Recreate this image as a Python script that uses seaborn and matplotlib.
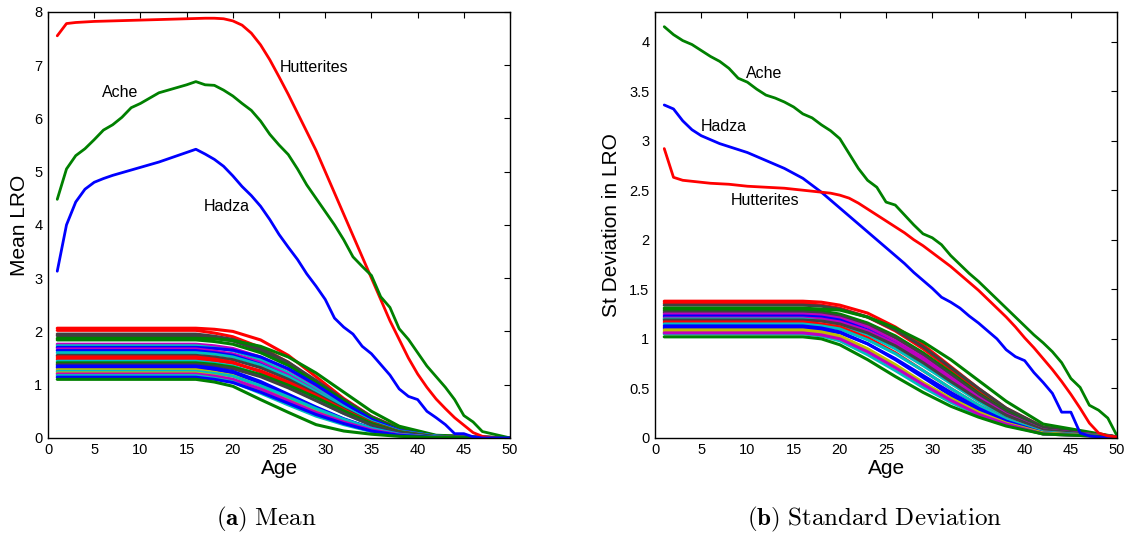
import numpy as np
import pandas as pd
import matplotlib
matplotlib.use("Agg")
import matplotlib.pyplot as plt
import seaborn as sns

# ---------------- data ----------------
ages = list(range(1, 51))

mean_hutterites = [7.55, 7.78, 7.80, 7.81, 7.82, 7.825, 7.83, 7.835, 7.84, 7.845, 7.85, 7.855, 7.86, 7.865, 7.87, 7.875,
                   7.88, 7.88, 7.87, 7.83, 7.75, 7.60, 7.38, 7.10, 6.78, 6.45, 6.10, 5.75, 5.40, 5.00,
                   4.60, 4.20, 3.80, 3.40, 3.00, 2.60, 2.20, 1.85, 1.50, 1.20, 0.95, 0.73, 0.55, 0.38, 0.24,
                   0.10, 0.03, 0.0, 0.0, 0.0]
mean_ache = [4.48, 5.05, 5.30, 5.43, 5.60, 5.78, 5.88, 6.02, 6.20, 6.28, 6.38, 6.48, 6.53, 6.58, 6.63, 6.69,
             6.63, 6.62, 6.53, 6.42, 6.28, 6.15, 5.95, 5.70, 5.50, 5.32, 5.05, 4.75, 4.50, 4.25,
             4.00, 3.72, 3.40, 3.22, 3.05, 2.65, 2.45, 2.05, 1.85, 1.60, 1.35, 1.15, 0.95, 0.72, 0.42,
             0.30, 0.12, 0.08, 0.04, 0.0]
mean_hadza = [3.13, 4.00, 4.43, 4.67, 4.80, 4.87, 4.93, 4.98, 5.03, 5.08, 5.13, 5.18, 5.24, 5.30, 5.36, 5.42,
              5.33, 5.23, 5.10, 4.92, 4.72, 4.55, 4.35, 4.10, 3.82, 3.58, 3.35, 3.08, 2.85, 2.60,
              2.25, 2.08, 1.95, 1.72, 1.58, 1.38, 1.18, 0.92, 0.78, 0.72, 0.50, 0.38, 0.25, 0.08, 0.08,
              0.02, 0.0, 0.0, 0.0, 0.0]

sd_ache = [4.15, 4.07, 4.01, 3.97, 3.91, 3.85, 3.80, 3.73, 3.63, 3.59, 3.52, 3.46, 3.43, 3.39, 3.34, 3.27,
           3.23, 3.16, 3.10, 3.02, 2.87, 2.72, 2.60, 2.53, 2.38, 2.35, 2.25, 2.15, 2.06, 2.02,
           1.95, 1.84, 1.75, 1.66, 1.58, 1.49, 1.40, 1.31, 1.22, 1.13, 1.04, 0.96, 0.87, 0.76, 0.60,
           0.51, 0.33, 0.28, 0.20, 0.02]
sd_hadza = [3.36, 3.32, 3.20, 3.11, 3.05, 3.01, 2.97, 2.94, 2.91, 2.88, 2.84, 2.80, 2.76, 2.72, 2.67, 2.62,
            2.55, 2.48, 2.40, 2.32, 2.24, 2.16, 2.08, 2.00, 1.92, 1.84, 1.76, 1.67, 1.59, 1.51,
            1.42, 1.37, 1.31, 1.23, 1.16, 1.08, 1.00, 0.89, 0.82, 0.78, 0.66, 0.56, 0.45, 0.26, 0.26,
            0.05, 0.02, 0.01, 0.01, 0.01]
sd_hutterites = [2.92, 2.63, 2.60, 2.59, 2.58, 2.57, 2.565, 2.56, 2.55, 2.54, 2.535, 2.53, 2.525, 2.52, 2.51, 2.50,
                 2.49, 2.48, 2.47, 2.45, 2.42, 2.37, 2.31, 2.25, 2.19, 2.13, 2.07, 2.00, 1.94, 1.87,
                 1.80, 1.73, 1.65, 1.57, 1.49, 1.40, 1.31, 1.22, 1.12, 1.01, 0.91, 0.80, 0.69, 0.57, 0.44,
                 0.30, 0.15, 0.05, 0.02, 0.01]

# other populations (bundle), values read at these ages
bundle_ages = [1, 16, 18, 20, 23, 26, 29, 32, 35, 38, 42, 50]

mean_bundle_colors = ['r', 'r', 'k', 'k', 'g', 'g', 'm', 'c', 'b', 'm', 'b', 'c', 'k', 'r', 'r', 'c',
                      'g', 'k', 'b', 'b', 'y', 'c', 'y', 'm', 'c', 'b', 'g']
mean_bundle = [
    [2.06, 2.06, 2.04, 2.00, 1.84, 1.55, 1.15, 0.74, 0.40, 0.18, 0.04, 0.0],
    [2.02, 2.02, 1.97, 1.90, 1.70, 1.42, 1.05, 0.68, 0.36, 0.15, 0.03, 0.0],
    [1.95, 1.95, 1.91, 1.85, 1.68, 1.42, 1.08, 0.72, 0.40, 0.17, 0.04, 0.0],
    [1.92, 1.92, 1.88, 1.82, 1.64, 1.38, 1.05, 0.70, 0.38, 0.16, 0.03, 0.0],
    [1.87, 1.87, 1.86, 1.83, 1.72, 1.52, 1.22, 0.86, 0.50, 0.22, 0.05, 0.0],
    [1.84, 1.84, 1.81, 1.76, 1.60, 1.36, 1.04, 0.70, 0.38, 0.16, 0.03, 0.0],
    [1.76, 1.76, 1.73, 1.68, 1.52, 1.28, 0.97, 0.64, 0.34, 0.14, 0.03, 0.0],
    [1.73, 1.73, 1.69, 1.64, 1.47, 1.22, 0.92, 0.60, 0.32, 0.13, 0.03, 0.0],
    [1.70, 1.70, 1.68, 1.65, 1.52, 1.30, 1.00, 0.66, 0.35, 0.14, 0.03, 0.0],
    [1.67, 1.67, 1.63, 1.58, 1.42, 1.18, 0.88, 0.57, 0.30, 0.12, 0.02, 0.0],
    [1.64, 1.64, 1.60, 1.55, 1.38, 1.14, 0.84, 0.54, 0.28, 0.11, 0.02, 0.0],
    [1.60, 1.60, 1.57, 1.52, 1.37, 1.15, 0.87, 0.58, 0.31, 0.13, 0.03, 0.0],
    [1.55, 1.55, 1.52, 1.47, 1.32, 1.10, 0.83, 0.55, 0.29, 0.12, 0.02, 0.0],
    [1.52, 1.52, 1.48, 1.42, 1.24, 1.00, 0.74, 0.48, 0.25, 0.10, 0.02, 0.0],
    [1.48, 1.48, 1.45, 1.40, 1.26, 1.05, 0.80, 0.53, 0.28, 0.11, 0.02, 0.0],
    [1.44, 1.44, 1.40, 1.35, 1.18, 0.96, 0.71, 0.46, 0.24, 0.10, 0.02, 0.0],
    [1.41, 1.41, 1.38, 1.33, 1.19, 0.99, 0.76, 0.51, 0.27, 0.11, 0.02, 0.0],
    [1.38, 1.38, 1.35, 1.30, 1.15, 0.94, 0.70, 0.46, 0.24, 0.10, 0.02, 0.0],
    [1.35, 1.35, 1.31, 1.25, 1.06, 0.82, 0.58, 0.36, 0.18, 0.07, 0.01, 0.0],
    [1.32, 1.32, 1.28, 1.22, 1.03, 0.80, 0.56, 0.35, 0.18, 0.07, 0.01, 0.0],
    [1.28, 1.28, 1.23, 1.17, 0.97, 0.74, 0.51, 0.31, 0.15, 0.06, 0.01, 0.0],
    [1.25, 1.25, 1.21, 1.16, 0.98, 0.77, 0.55, 0.35, 0.18, 0.07, 0.01, 0.0],
    [1.22, 1.22, 1.17, 1.10, 0.90, 0.67, 0.45, 0.27, 0.13, 0.05, 0.01, 0.0],
    [1.20, 1.20, 1.16, 1.10, 0.92, 0.70, 0.48, 0.30, 0.15, 0.06, 0.01, 0.0],
    [1.17, 1.17, 1.12, 1.05, 0.84, 0.62, 0.41, 0.25, 0.12, 0.05, 0.01, 0.0],
    [1.14, 1.14, 1.10, 1.04, 0.86, 0.65, 0.44, 0.27, 0.13, 0.05, 0.01, 0.0],
    [1.10, 1.10, 1.05, 0.97, 0.72, 0.48, 0.25, 0.13, 0.07, 0.03, 0.01, 0.0],
]

sd_bundle_colors = ['r', 'r', 'k', 'g', 'g', 'k', 'm', 'b', 'm', 'c', 'k', 'r', 'c', 'b', 'b', 'y', 'y',
                    'c', 'm', 'g']
sd_bundle = [
    [1.38, 1.38, 1.37, 1.34, 1.26, 1.12, 0.94, 0.72, 0.50, 0.30, 0.11, 0.01],
    [1.36, 1.36, 1.34, 1.31, 1.22, 1.08, 0.90, 0.69, 0.47, 0.28, 0.10, 0.01],
    [1.34, 1.34, 1.33, 1.30, 1.22, 1.09, 0.92, 0.71, 0.50, 0.30, 0.11, 0.01],
    [1.31, 1.31, 1.30, 1.29, 1.22, 1.11, 0.97, 0.79, 0.58, 0.37, 0.14, 0.01],
    [1.29, 1.29, 1.28, 1.25, 1.16, 1.03, 0.86, 0.66, 0.45, 0.27, 0.09, 0.01],
    [1.27, 1.27, 1.26, 1.23, 1.14, 1.01, 0.84, 0.64, 0.44, 0.26, 0.09, 0.01],
    [1.25, 1.25, 1.24, 1.21, 1.12, 0.98, 0.81, 0.61, 0.41, 0.24, 0.08, 0.01],
    [1.23, 1.23, 1.22, 1.19, 1.09, 0.95, 0.77, 0.57, 0.38, 0.22, 0.07, 0.01],
    [1.21, 1.21, 1.20, 1.17, 1.08, 0.95, 0.78, 0.59, 0.40, 0.23, 0.08, 0.01],
    [1.20, 1.20, 1.18, 1.14, 1.04, 0.90, 0.73, 0.55, 0.37, 0.21, 0.07, 0.01],
    [1.19, 1.19, 1.18, 1.15, 1.06, 0.93, 0.76, 0.57, 0.39, 0.23, 0.08, 0.01],
    [1.17, 1.17, 1.15, 1.12, 1.01, 0.86, 0.68, 0.50, 0.33, 0.19, 0.06, 0.01],
    [1.15, 1.15, 1.13, 1.10, 0.99, 0.85, 0.68, 0.50, 0.33, 0.19, 0.06, 0.01],
    [1.13, 1.13, 1.11, 1.07, 0.95, 0.79, 0.61, 0.43, 0.28, 0.16, 0.05, 0.01],
    [1.11, 1.11, 1.09, 1.06, 0.95, 0.80, 0.63, 0.46, 0.30, 0.17, 0.05, 0.01],
    [1.09, 1.09, 1.07, 1.03, 0.90, 0.74, 0.56, 0.40, 0.26, 0.15, 0.05, 0.01],
    [1.07, 1.07, 1.05, 1.01, 0.88, 0.72, 0.55, 0.39, 0.25, 0.14, 0.04, 0.01],
    [1.05, 1.05, 1.03, 0.98, 0.84, 0.68, 0.51, 0.36, 0.23, 0.13, 0.04, 0.01],
    [1.06, 1.06, 1.04, 1.00, 0.87, 0.71, 0.54, 0.38, 0.24, 0.14, 0.04, 0.01],
    [1.02, 1.02, 1.00, 0.94, 0.79, 0.62, 0.46, 0.32, 0.21, 0.12, 0.04, 0.01],
]

x_ticks = [0, 5, 10, 15, 20, 25, 30, 35, 40, 45, 50]
mean_yticks = [0, 1, 2, 3, 4, 5, 6, 7, 8]
sd_yticks = [0, 0.5, 1, 1.5, 2, 2.5, 3, 3.5, 4]
sd_yticklabels = ['0', '0.5', '1', '1.5', '2', '2.5', '3', '3.5', '4']

# ---------------- style ----------------
matlab = {'b': '#0000FF', 'g': '#008000', 'r': '#FF0000', 'c': '#00BFBF',
          'm': '#BF00BF', 'y': '#BFBF00', 'k': '#404040'}

sns.set_style('white')
plt.rcParams['font.family'] = ['Liberation Sans', 'DejaVu Sans']
plt.rcParams['mathtext.fontset'] = 'cm'
plt.rcParams['text.color'] = 'black'
plt.rcParams['axes.labelcolor'] = 'black'
plt.rcParams['xtick.color'] = 'black'
plt.rcParams['ytick.color'] = 'black'

fig = plt.figure(figsize=(11.27, 5.38), dpi=100)
ax1 = fig.add_axes([0.0426, 0.186, 0.41, 0.792])
ax2 = fig.add_axes([0.5812, 0.186, 0.41, 0.792])


def bundle_frame(rows):
    recs = []
    for i, vals in enumerate(rows):
        for a, v in zip(bundle_ages, vals):
            recs.append({'age': a, 'val': v, 'id': i})
    return pd.DataFrame(recs)


def draw_panel(ax, rows, colors, named):
    df = bundle_frame(rows)
    pal = [matlab[c] for c in colors]
    sns.lineplot(data=df, x='age', y='val', hue='id', palette=pal, legend=False,
                 ax=ax, linewidth=2.2, estimator=None, sort=False)
    for vals, col in named:
        sns.lineplot(x=ages, y=vals, color=matlab[col], linewidth=2.0, ax=ax,
                     estimator=None, sort=False)


draw_panel(ax1, mean_bundle, mean_bundle_colors,
           [(mean_hutterites, 'r'), (mean_ache, 'g'), (mean_hadza, 'b')])
draw_panel(ax2, sd_bundle, sd_bundle_colors,
           [(sd_ache, 'g'), (sd_hadza, 'b'), (sd_hutterites, 'r')])

for ax in (ax1, ax2):
    ax.set_xlim(0, 50)
    ax.set_xticks(x_ticks)
    ax.set_xlabel('Age', fontsize=15, labelpad=1, color='black')
    ax.tick_params(direction='in', top=True, right=True, length=4, width=0.8,
                   labelsize=10.5, color='black', labelcolor='black', pad=4)
    for s in ax.spines.values():
        s.set_visible(True)
        s.set_color('black')
        s.set_linewidth(1.0)

ax1.set_ylim(0, 8)
ax1.set_yticks(mean_yticks)
ax1.set_ylabel('Mean LRO', fontsize=15, labelpad=4, color='black')
ax2.set_ylim(0, 4.3)
ax2.set_yticks(sd_yticks)
ax2.set_yticklabels(sd_yticklabels)
ax2.set_ylabel('St Deviation in LRO', fontsize=15, labelpad=6, color='black')

ax1.text(25.1, 6.95, 'Hutterites', fontsize=11.5, va='center', color='black')
ax1.text(5.8, 6.48, 'Ache', fontsize=11.5, va='center', color='black')
ax1.text(16.8, 4.34, 'Hadza', fontsize=11.5, va='center', color='black')
ax2.text(9.85, 3.68, 'Ache', fontsize=11.5, va='center', color='black')
ax2.text(4.9, 3.14, 'Hadza', fontsize=11.5, va='center', color='black')
ax2.text(8.2, 2.40, 'Hutterites', fontsize=11.5, va='center', color='black')

fig.text(0.236, 0.035, r'$\mathbf{(a)}\ \mathrm{Mean}$', fontsize=18, ha='center', va='center', color='black')
fig.text(0.776, 0.035, r'$\mathbf{(b)}\ \mathrm{Standard\ Deviation}$', fontsize=18, ha='center', va='center', color='black')

fig.savefig('out.png', dpi=100, facecolor='white')
